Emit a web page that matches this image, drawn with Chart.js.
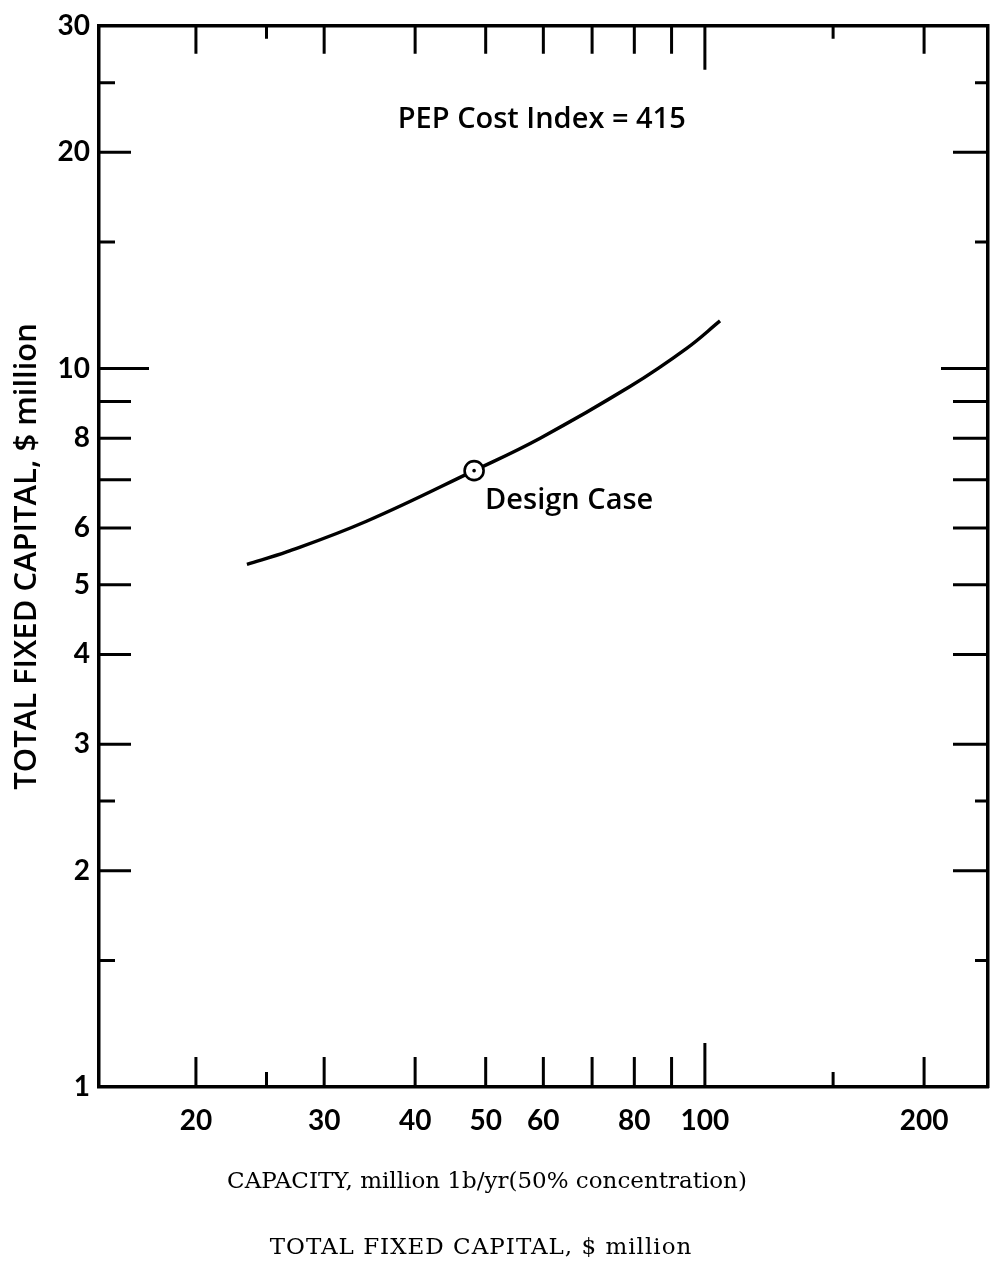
<!DOCTYPE html>
<html>
<head>
<meta charset="utf-8">
<script src="https://cdn.jsdelivr.net/npm/chart.js@4.4.1/dist/chart.umd.min.js"></script>
<style>
  html, body { margin: 0; padding: 0; background: #ffffff; }
  #wrap { width: 995px; height: 1271px; position: relative; }
  canvas { display: block; }
</style>
</head>
<body>
<div id="wrap"><canvas id="chart" width="995" height="1271"></canvas></div>
<script>
// ---------- data ----------
const capacity = [23.5, 26.7, 34.3, 48.2, 59.4, 78.9, 94.4, 104.9];
const fixedCapital = [5.34, 5.56, 6.13, 7.21, 8.00, 9.44, 10.67, 11.65];
const designCapacity = [48.2];
const designCapital = [7.21];
const xTickValues = [20, 25, 30, 40, 50, 60, 70, 80, 90, 100, 150, 200];
const xTickLabels = [20, 30, 40, 50, 60, 80, 100, 200];
const yTickValues = [1.5, 2, 2.5, 3, 4, 5, 6, 7, 8, 9, 10, 15, 20, 25];
const yTickLabels = [1, 2, 3, 4, 5, 6, 8, 10, 20, 30];
const xRange = [14.72, 244.8];
const yRange = [1, 30];
const xTitle = 'CAPACITY, million 1b/yr(50% concentration)';
const yTitle = 'TOTAL FIXED CAPITAL, $ million';
const bottomTitle = 'TOTAL FIXED CAPITAL, $ million';
const costIndexText = 'PEP Cost Index = 415';
const costIndexAnchor = [59.7, 22.2];
const designText = 'Design Case';

// ---------- style ----------
const SANS = 'Lato, "Noto Sans", sans-serif';
const SANS_WIDE = '"Open Sans", Lato, sans-serif';
const SERIF = '"DejaVu Serif", "Liberation Serif", serif';
const AXIS_W = 3.5;
const TICK_W = 3;
const CANVAS_H = 1271;
const AREA_BOTTOM = 1087;

function xTickLen(v, side) {
  if (v === 100) return 44;
  if (v === 25 || v === 150) return side === 'top' ? 13 : 15;
  return side === 'top' ? 28 : 30;
}
function yTickLen(v, side) {
  if (v === 10) return side === 'left' ? 50 : 47;
  if (v === 1.5 || v === 2.5 || v === 15 || v === 25) return side === 'left' ? 16 : 13;
  return side === 'left' ? 32 : 35;
}

const frameTicks = {
  id: 'frameTicks',
  afterDraw(chart) {
    const { ctx, chartArea: a, scales } = chart;
    ctx.save();
    ctx.strokeStyle = '#000';
    ctx.lineWidth = TICK_W;
    ctx.lineCap = 'butt';
    ctx.beginPath();
    xTickValues.forEach(v => {
      const pb = scales.x.getPixelForValue(v);
      ctx.moveTo(pb, a.bottom); ctx.lineTo(pb, a.bottom - xTickLen(v, 'bottom'));
      const pt = scales.x2.getPixelForValue(v);
      ctx.moveTo(pt, a.top); ctx.lineTo(pt, a.top + xTickLen(v, 'top'));
    });
    yTickValues.forEach(v => {
      const pl = scales.y.getPixelForValue(v);
      ctx.moveTo(a.left, pl); ctx.lineTo(a.left + yTickLen(v, 'left'), pl);
      const pr = scales.y2.getPixelForValue(v);
      ctx.moveTo(a.right, pr); ctx.lineTo(a.right - yTickLen(v, 'right'), pr);
    });
    ctx.stroke();

    // annotations
    ctx.fillStyle = '#000';
    ctx.font = '600 29px ' + SANS_WIDE;
    ctx.textAlign = 'center';
    ctx.textBaseline = 'middle';
    ctx.fillText(costIndexText,
      scales.x.getPixelForValue(costIndexAnchor[0]),
      scales.y.getPixelForValue(costIndexAnchor[1]));
    ctx.textAlign = 'left';
    ctx.fillText(designText,
      scales.x.getPixelForValue(designCapacity[0]) + 11,
      scales.y.getPixelForValue(designCapital[0]) + 30);

    // bottom captions (axis title and figure caption)
    ctx.font = 'normal 23px ' + SERIF;
    ctx.textAlign = 'center';
    ctx.fillText(xTitle, a.left + 388, 1182);
    if ('letterSpacing' in ctx) ctx.letterSpacing = '1px';
    ctx.fillText(bottomTitle, a.left + 382, 1248);
    ctx.restore();
  }
};

const hiddenGrid = { display: false, drawTicks: false, tickLength: 0 };
const border = { display: true, color: '#000', width: AXIS_W };
const noSidePad = s => { s.paddingLeft = 0; s.paddingRight = 0; };

new Chart(document.getElementById('chart'), {
  type: 'scatter',
  data: {
    datasets: [
      {
        label: 'dot',
        data: designCapacity.map((x, i) => ({ x, y: designCapital[i] })),
        pointRadius: 1.8, pointBackgroundColor: '#000', pointBorderWidth: 0,
        showLine: false, order: 1
      },
      {
        label: 'Design Case',
        data: designCapacity.map((x, i) => ({ x, y: designCapital[i] })),
        pointRadius: 9.5, pointBackgroundColor: '#fff', pointBorderColor: '#000',
        pointBorderWidth: 2.6, showLine: false, order: 2
      },
      {
        label: 'Total fixed capital',
        data: capacity.map((x, i) => ({ x, y: fixedCapital[i] })),
        showLine: true, borderColor: '#000', borderWidth: 3.4,
        pointRadius: 0, tension: 0.4,
        fill: false, order: 3
      }
    ]
  },
  options: {
    responsive: false,
    animation: false,
    events: [],
    layout: { autoPadding: false, padding: { left: 0, top: 22, right: 7, bottom: 0 } },
    plugins: {
      legend: { display: false },
      tooltip: { enabled: false },
      title: { display: false }
    },
    scales: {
      x: {
        type: 'logarithmic', position: 'bottom',
        min: xRange[0], max: xRange[1],
        afterBuildTicks: s => { s.ticks = xTickLabels.map(v => ({ value: v })); },
        afterFit: s => { s.height = CANVAS_H - AREA_BOTTOM; noSidePad(s); },
        ticks: {
          callback: v => String(v), autoSkip: false, maxRotation: 0, minRotation: 0,
          color: '#000', padding: 17,
          font: { family: SANS, size: 28, weight: 'bold' }
        },
        grid: hiddenGrid, border,
        title: { display: false, text: xTitle }
      },
      x2: {
        type: 'logarithmic', position: 'top', axis: 'x',
        min: xRange[0], max: xRange[1],
        afterFit: s => { s.height = 0; noSidePad(s); },
        ticks: { display: false },
        grid: hiddenGrid, border
      },
      y: {
        type: 'logarithmic', position: 'left',
        min: yRange[0], max: yRange[1],
        afterBuildTicks: s => { s.ticks = yTickLabels.map(v => ({ value: v })); },
        afterFit: s => { s.width = 99; },
        ticks: {
          callback: v => String(v), autoSkip: false,
          color: '#000', padding: 9,
          font: { family: SANS, size: 28, weight: 'bold' }
        },
        grid: hiddenGrid, border,
        title: {
          display: true, text: yTitle, color: '#000',
          font: { family: SANS_WIDE, size: 31, lineHeight: 1.2, weight: '600' },
          padding: { top: 9, bottom: 0 }
        }
      },
      y2: {
        type: 'logarithmic', position: 'right', axis: 'y',
        min: yRange[0], max: yRange[1],
        afterFit: s => { s.width = 0; },
        ticks: { display: false },
        grid: hiddenGrid, border
      }
    }
  },
  plugins: [frameTicks]
});
</script>
</body>
</html>
